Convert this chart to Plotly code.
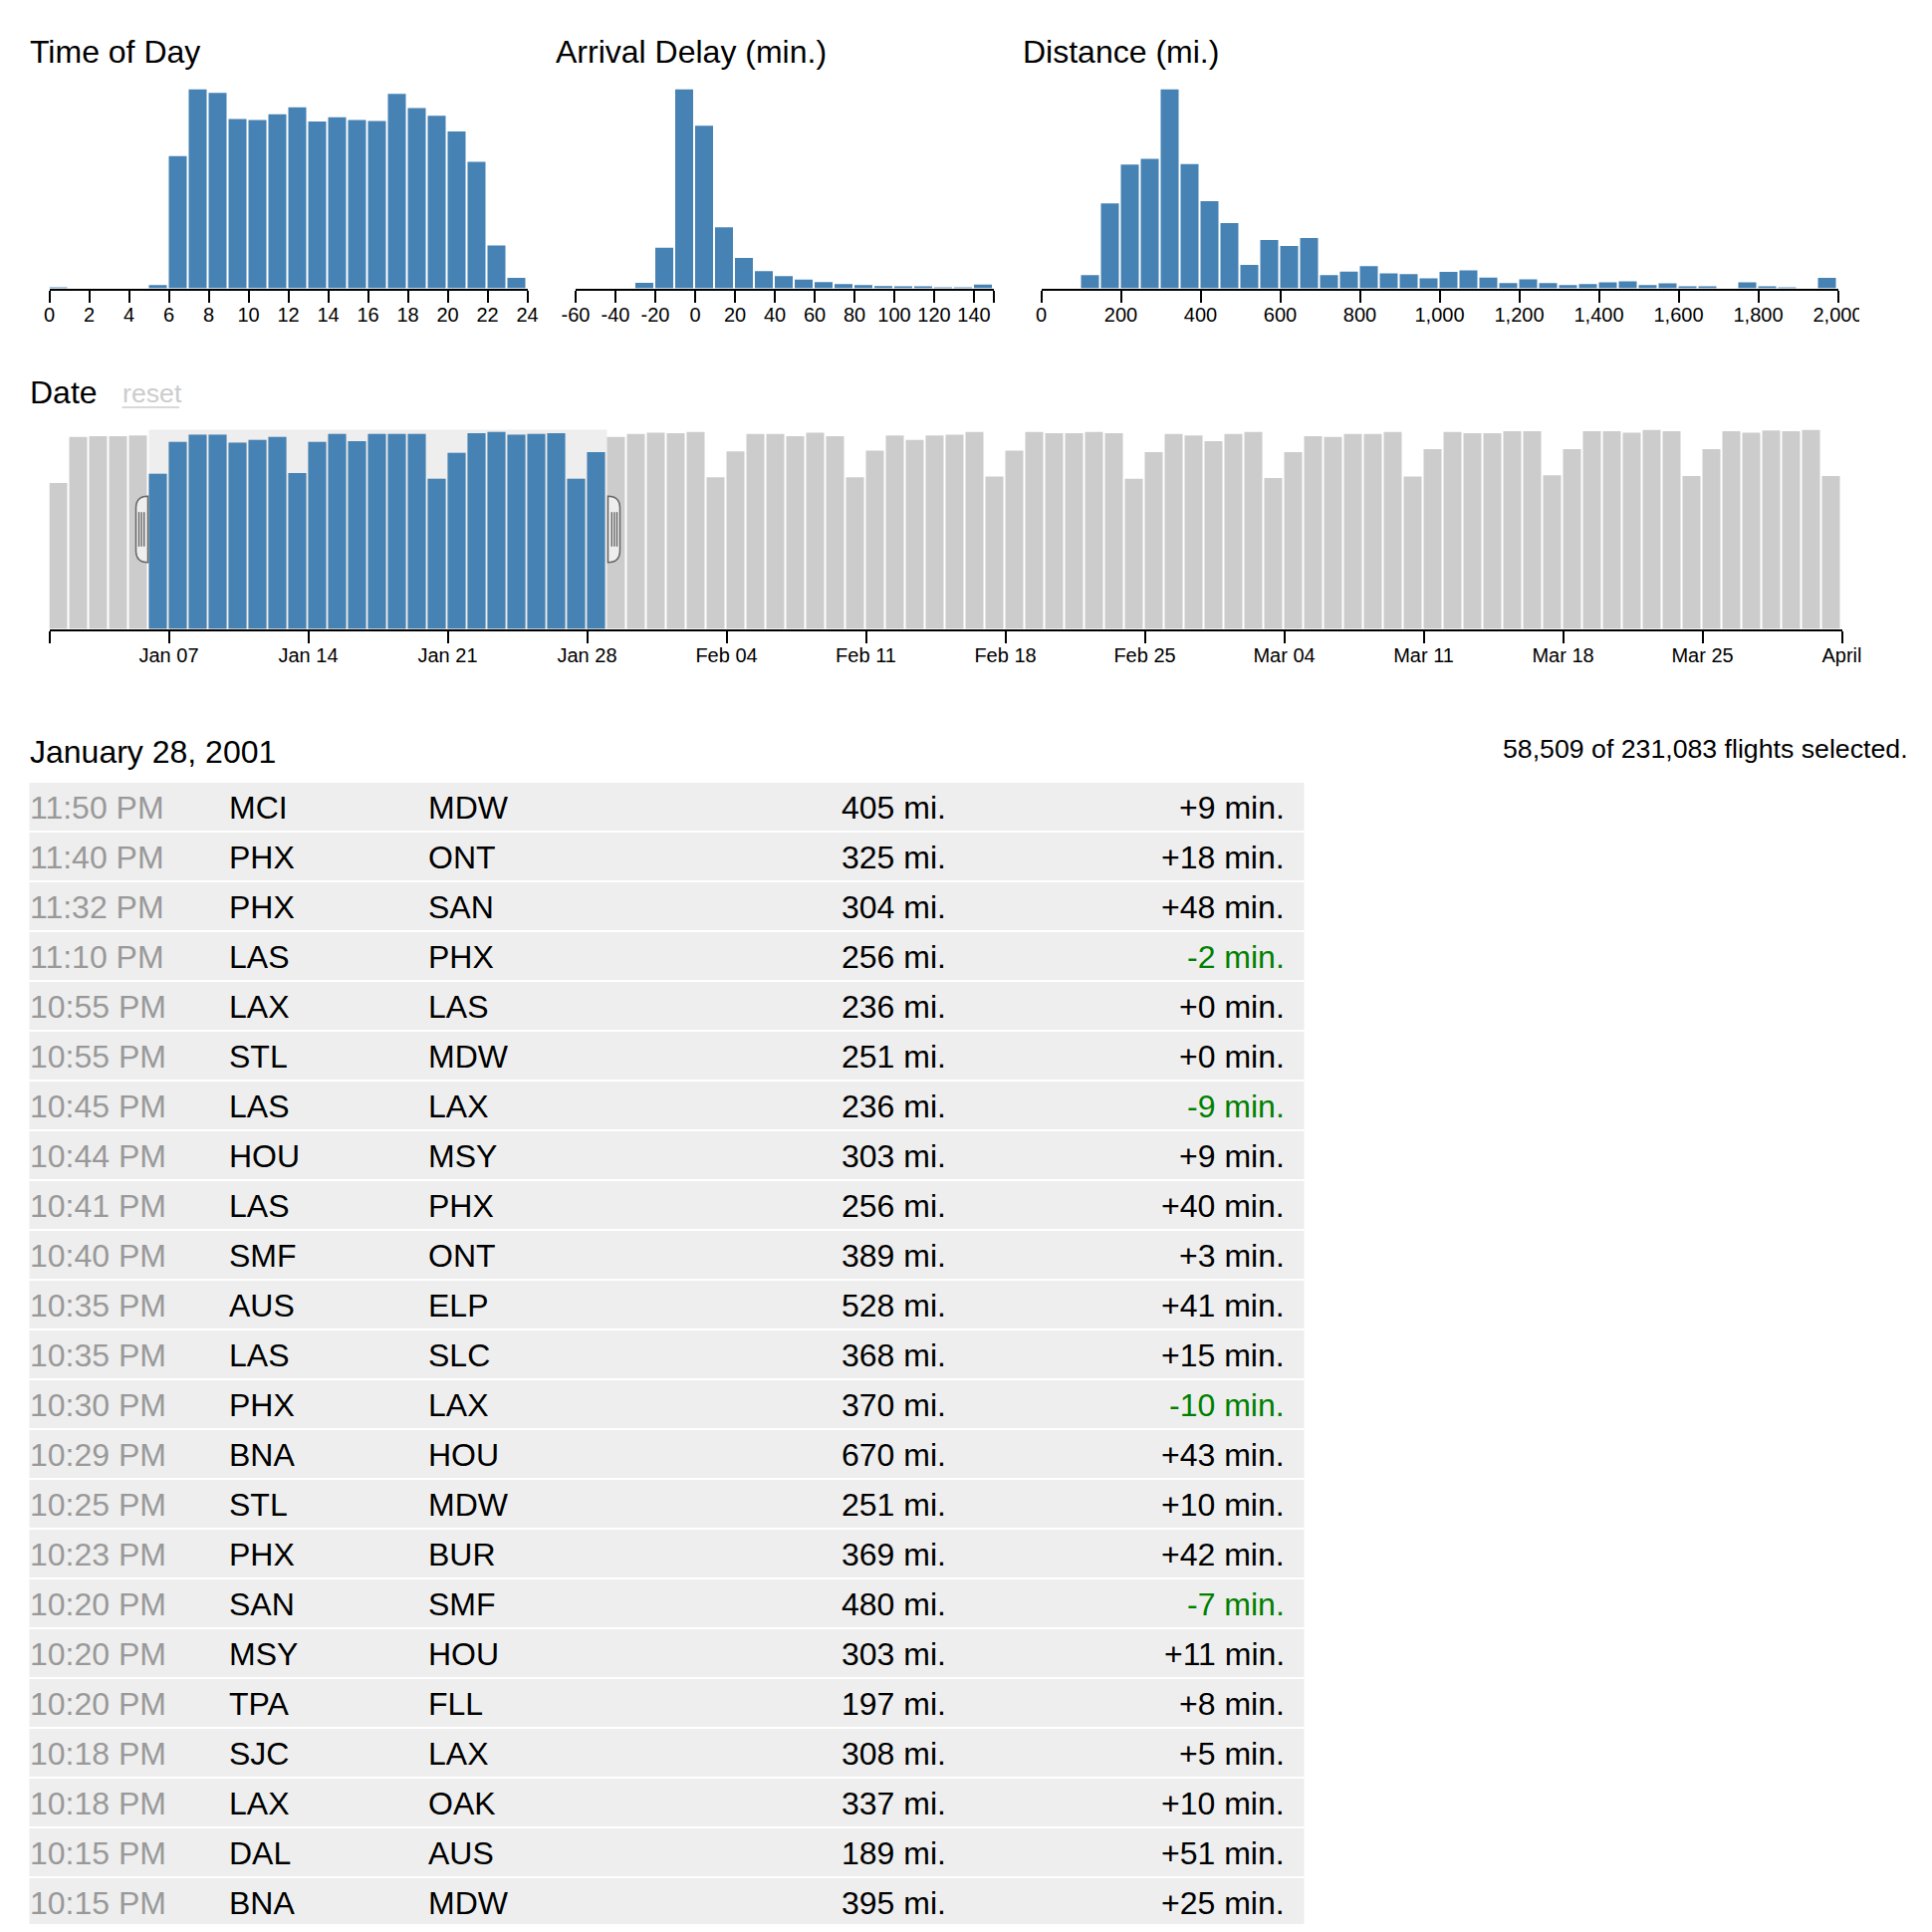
import plotly.graph_objects as go
import pandas as pd

FONT = "Liberation Sans, Arial, Helvetica, sans-serif"
BLUE = "#4682b4"
GRAY = "#cccccc"

# ---------------- data ----------------
hour_bins = list(range(0, 24))
hour_counts = [20, 0, 0, 0, 0, 70, 2780, 4190, 4110, 3560, 3540, 3660, 3810, 3510,
               3600, 3540, 3520, 4090, 3790, 3630, 3300, 2660, 900, 220]
hour_ticks = list(range(0, 25, 2))

delay_bins = list(range(-60, 150, 10))
delay_counts = [0, 0, 0, 560, 4230, 20750, 16930, 6350, 3160, 1800, 1280, 900, 660,
                450, 350, 240, 170, 140, 100, 70, 380]
delay_ticks = list(range(-60, 141, 20))

distance_bins = list(range(0, 2000, 50))
distance_counts = [0, 0, 650, 4160, 6060, 6340, 9750, 6080, 4270, 3190,
                   1140, 2360, 2070, 2460, 650, 820, 1090, 730, 700, 490,
                   800, 880, 520, 260, 440, 260, 160, 210, 290, 340,
                   160, 240, 70, 70, 0, 290, 70, 20, 0, 510]
distance_ticks = list(range(0, 2001, 200))

date_days = pd.date_range("2001-01-01", "2001-03-31", freq="D")
date_counts = [
    # January
    2020, 2660, 2670, 2670, 2680, 2150, 2590, 2690, 2690, 2580,
    2620, 2660, 2160, 2590, 2700, 2600, 2700, 2700, 2700, 2080,
    2440, 2710, 2730, 2690, 2700, 2710, 2080, 2450, 2660, 2700, 2720,
    # February
    2710, 2730, 2100, 2460, 2700, 2700, 2670, 2720, 2670, 2100,
    2470, 2680, 2620, 2680, 2690, 2730, 2110, 2470, 2730, 2710,
    2710, 2730, 2710, 2080, 2450, 2700, 2680, 2600,
    # March
    2700, 2730, 2090, 2450, 2670, 2660, 2700, 2700, 2730, 2110,
    2490, 2730, 2710, 2710, 2740, 2740, 2130, 2490, 2740, 2740,
    2720, 2760, 2740, 2120, 2490, 2740, 2720, 2750, 2740, 2760, 2120,
]
date_tickvals = ["2001-01-01", "2001-01-07", "2001-01-14", "2001-01-21", "2001-01-28",
                 "2001-02-04", "2001-02-11", "2001-02-18", "2001-02-25", "2001-03-04",
                 "2001-03-11", "2001-03-18", "2001-03-25", "2001-04-01"]
date_ticktext = ["", "Jan 07", "Jan 14", "Jan 21", "Jan 28", "Feb 04", "Feb 11",
                 "Feb 18", "Feb 25", "Mar 04", "Mar 11", "Mar 18", "Mar 25", "April"]
brush_start = "2001-01-06"
brush_end = "2001-01-29"

list_date = "January 28, 2001"
total_text = "58,509 of 231,083 flights selected."

flight_times = ["11:50 PM", "11:40 PM", "11:32 PM", "11:10 PM", "10:55 PM", "10:55 PM",
                "10:45 PM", "10:44 PM", "10:41 PM", "10:40 PM", "10:35 PM", "10:35 PM",
                "10:30 PM", "10:29 PM", "10:25 PM", "10:23 PM", "10:20 PM", "10:20 PM",
                "10:20 PM", "10:18 PM", "10:18 PM", "10:15 PM", "10:15 PM"]
flight_origins = ["MCI", "PHX", "PHX", "LAS", "LAX", "STL", "LAS", "HOU", "LAS", "SMF",
                  "AUS", "LAS", "PHX", "BNA", "STL", "PHX", "SAN", "MSY", "TPA", "SJC",
                  "LAX", "DAL", "BNA"]
flight_dests = ["MDW", "ONT", "SAN", "PHX", "LAS", "MDW", "LAX", "MSY", "PHX", "ONT",
                "ELP", "SLC", "LAX", "HOU", "MDW", "BUR", "SMF", "HOU", "FLL", "LAX",
                "OAK", "AUS", "MDW"]
flight_distances = [405, 325, 304, 256, 236, 251, 236, 303, 256, 389, 528, 368, 370,
                    670, 251, 369, 480, 303, 197, 308, 337, 189, 395]
flight_delays = [9, 18, 48, -2, 0, 0, -9, 9, 40, 3, 41, 15, -10, 43, 10, 42, -7, 11,
                 8, 5, 10, 51, 25]

# ---------------- page geometry (page pixels) ----------------
W = H = 1924
OFF = 8  # default body margin of the html page


def px(x):
    return (x - OFF) / W


def py(y):
    return 1 - (y - OFF) / H


TOP_BASE, TOP_TOP = 289.5, 89.5
DATE_BASE, DATE_TOP = 631.5, 431.5
HOUR_X = (49.5, 529.5)
DELAY_X = (578.0, 998.0)
DIST_X = (1045.5, 1845.5)
DATE_X = (49.5, 1849.5)

fig = go.Figure()

fig.add_trace(go.Bar(x=hour_bins, y=hour_counts, width=0.9, offset=0,
                     marker=dict(color=BLUE, line=dict(width=0)), xaxis="x", yaxis="y",
                     hoverinfo="skip"))
fig.add_trace(go.Bar(x=delay_bins, y=delay_counts, width=9, offset=0,
                     marker=dict(color=BLUE, line=dict(width=0)), xaxis="x2", yaxis="y2",
                     hoverinfo="skip"))
fig.add_trace(go.Bar(x=distance_bins, y=distance_counts, width=45, offset=0,
                     marker=dict(color=BLUE, line=dict(width=0)), xaxis="x3", yaxis="y3",
                     hoverinfo="skip"))

DAY_MS = 86400000
sel = [(d >= pd.Timestamp(brush_start)) and (d < pd.Timestamp(brush_end)) for d in date_days]
sel_x = [d for d, s in zip(date_days, sel) if s]
sel_y = [c for c, s in zip(date_counts, sel) if s]
fig.add_trace(go.Bar(x=date_days, y=date_counts, width=0.9 * DAY_MS, offset=0,
                     marker=dict(color=GRAY, line=dict(width=0)), xaxis="x4", yaxis="y4",
                     hoverinfo="skip"))
fig.add_trace(go.Bar(x=sel_x, y=sel_y, width=0.9 * DAY_MS, offset=0,
                     marker=dict(color=BLUE, line=dict(width=0)), xaxis="x4", yaxis="y4",
                     hoverinfo="skip"))


def xaxis(dom, rng, tickvals, ticktext, anchor, typ="linear"):
    return dict(domain=[px(dom[0]), px(dom[1])], range=rng, type=typ, anchor=anchor,
                tickmode="array", tickvals=tickvals, ticktext=ticktext,
                showline=True, linecolor="black", linewidth=2,
                ticks="outside", ticklen=12, tickwidth=2, tickcolor="black",
                showgrid=False, zeroline=False, fixedrange=True, automargin=False,
                ticklabelstandoff=-5,
                tickfont=dict(size=20, color="black", family=FONT))


def yaxis(base, top, ymax, anchor):
    return dict(domain=[py(base), py(top)], range=[0, ymax], visible=False,
                anchor=anchor, fixedrange=True, automargin=False)


fig.update_layout(
    xaxis=xaxis(HOUR_X, [0, 24], hour_ticks, [str(t) for t in hour_ticks], "y"),
    yaxis=yaxis(TOP_BASE, TOP_TOP, max(hour_counts), "x"),
    xaxis2=xaxis(DELAY_X, [-60, 150], delay_ticks + [150],
                 [str(t) for t in delay_ticks] + [""], "y2"),
    yaxis2=yaxis(TOP_BASE, TOP_TOP, max(delay_counts), "x2"),
    xaxis3=xaxis(DIST_X, [0, 2000], distance_ticks, [f"{t:,}" for t in distance_ticks], "y3"),
    yaxis3=yaxis(TOP_BASE, TOP_TOP, max(distance_counts), "x3"),
    xaxis4=xaxis(DATE_X, ["2001-01-01", "2001-04-01"], date_tickvals, date_ticktext, "y4",
                  typ="date"),
    yaxis4=yaxis(DATE_BASE, DATE_TOP, max(date_counts), "x4"),
)

shapes = []
annotations = []


def text(x, y, s, size, color="black", xanchor="left"):
    annotations.append(dict(x=px(x), y=py(y), xref="paper", yref="paper", text=s,
                            showarrow=False, xanchor=xanchor, yanchor="middle",
                            borderpad=0, borderwidth=0,
                            font=dict(size=size, color=color, family=FONT)))


# chart titles
text(29.5, 51.7, "Time of Day", 32)
text(558.4, 51.7, "Arrival Delay (min.)", 32)
text(1027.3, 51.7, "Distance (mi.)", 32)
text(29.5, 393.8, "Date", 32)
text(122.5, 395.0, "reset", 26.7, color="#cccccc")
shapes.append(dict(type="line", xref="paper", yref="paper", x0=px(122.5), x1=px(180),
                   y0=py(409), y1=py(409), line=dict(color="#cccccc", width=1.5)))

# mask the clipped end of the last distance label (svg clip in the original)
shapes.append(dict(type="rect", xref="paper", yref="paper", layer="above",
                   x0=px(1867), x1=px(1930), y0=py(340), y1=py(296),
                   fillcolor="white", line=dict(width=0)))

# brush on the date chart
day_px = (DATE_X[1] - DATE_X[0]) / len(date_days)
b0 = DATE_X[0] + (pd.Timestamp(brush_start) - date_days[0]).days * day_px
b1 = DATE_X[0] + (pd.Timestamp(brush_end) - date_days[0]).days * day_px
shapes.append(dict(type="rect", xref="paper", yref="paper", layer="below",
                   x0=px(b0), x1=px(b1), y0=py(DATE_BASE), y1=py(DATE_TOP),
                   fillcolor="#eeeeee", line=dict(width=0)))

h3 = (DATE_BASE - DATE_TOP) / 3
y1h, y2h = DATE_TOP + h3, DATE_TOP + 2 * h3
for edge, d in ((b0, -1), (b1, 1)):
    xa, xb = edge + d * 1, edge + d * 13
    path = (f"M{px(xa)},{py(y1h)} Q{px(xb)},{py(y1h)} {px(xb)},{py(y1h + 12)} "
            f"L{px(xb)},{py(y2h - 12)} Q{px(xb)},{py(y2h)} {px(xa)},{py(y2h)} Z")
    shapes.append(dict(type="path", xref="paper", yref="paper", layer="above", path=path,
                       fillcolor="#eeeeee", line=dict(color="#666666", width=1.5)))
    for off in (4.8, 7.4, 10.0):
        shapes.append(dict(type="line", xref="paper", yref="paper", layer="above",
                           x0=px(edge + d * off), x1=px(edge + d * off),
                           y0=py(y1h + 16), y1=py(y2h - 16),
                           line=dict(color="#666666", width=1.4)))

# flight list
text(29.5, 755, list_date, 32)
text(1509, 752, total_text, 26.7)

ROW0, PITCH, ROWH = 786, 50, 48
for k in range(len(flight_times) + 1):
    top = ROW0 + k * PITCH
    shapes.append(dict(type="rect", xref="paper", yref="paper", layer="below",
                       x0=px(29.5), x1=px(1309.5), y0=py(top + ROWH), y1=py(top),
                       fillcolor="#eeeeee", line=dict(width=0)))

for k in range(len(flight_times)):
    yc = ROW0 + k * PITCH + 25
    dl = flight_delays[k]
    text(29.5, yc, flight_times[k], 32, color="#999999")
    text(229.5, yc, flight_origins[k], 32)
    text(429.5, yc, flight_dests[k], 32)
    text(949.5, yc, f"{flight_distances[k]} mi.", 32, xanchor="right")
    text(1289.5, yc, f"{dl:+d} min.", 32, color="green" if dl < 0 else "black",
         xanchor="right")

fig.update_layout(
    width=W, height=H, autosize=False,
    margin=dict(l=0, r=0, t=0, b=0, pad=0, autoexpand=False),
    paper_bgcolor="white", plot_bgcolor="rgba(0,0,0,0)",
    showlegend=False, barmode="overlay",
    font=dict(family=FONT, color="black"),
    shapes=shapes, annotations=annotations,
)

fig.write_html("out.html", config={"displayModeBar": False, "responsive": False})
